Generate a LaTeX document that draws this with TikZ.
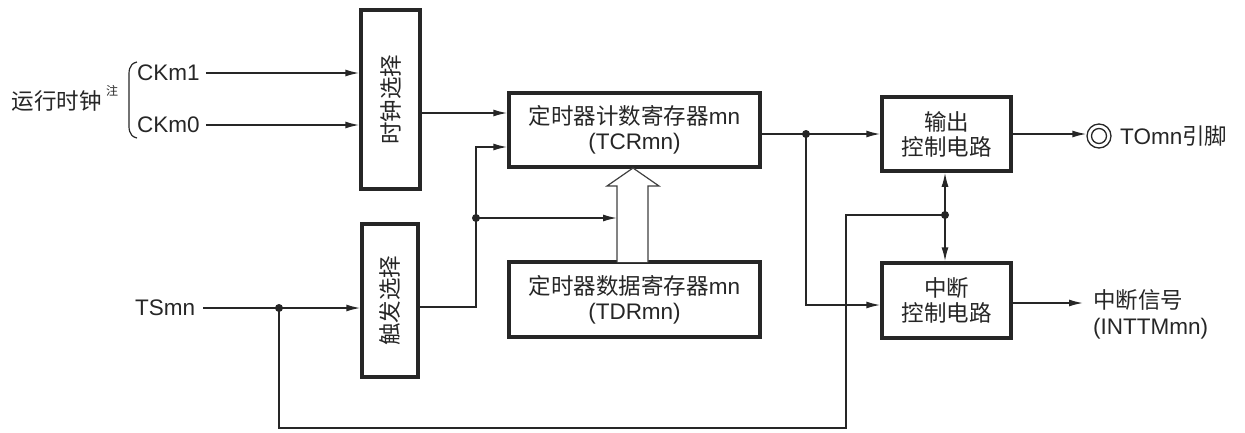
\documentclass[tikz,border=0pt]{standalone}
\usepackage{fontspec}
\setmainfont{Liberation Sans}
\newfontfamily\cjk{Noto Sans CJK SC}
\usetikzlibrary{arrows.meta,calc}
\begin{document}
\begin{tikzpicture}[x=1pt,y=-1pt,
  every node/.style={font=\fontsize{22.5}{27}\selectfont, text=black!85},
  blk/.style={draw=black!85, line width=3.5pt, fill=white, inner sep=0pt},
  ln/.style={draw=black!85, line width=1.5pt},
  arr/.style={ln, -{Latex[length=14pt,width=7pt]}},
  dot/.style={circle, fill=black!85, inner sep=0pt, minimum size=8pt}]
\useasboundingbox (0,0) rectangle (1245,432);
% blocks
\node[blk, minimum width=59pt, minimum height=179pt] (clk) at (390.5,99.5) {};
\node[rotate=90] at (clk.center) {\cjk 时钟选择};
\node[blk, minimum width=56pt, minimum height=153pt] (trg) at (390,300.5) {};
\node[rotate=90] at (trg.center) {\cjk 触发选择};
\node[blk, minimum width=251pt, minimum height=74pt, align=center] (tcr) at (634.5,130) {{\cjk 定时器计数寄存器}mn\\[-2pt](TCRmn)};
\node[blk, minimum width=251pt, minimum height=75pt, align=center] (tdr) at (634.5,299.5) {{\cjk 定时器数据寄存器}mn\\[-2pt](TDRmn)};
\node[blk, minimum width=129pt, minimum height=74pt, align=center] (out) at (946.5,134) {\cjk 输出\\[-2pt]\cjk 控制电路};
\node[blk, minimum width=129pt, minimum height=75pt, align=center] (irq) at (946.5,300.5) {\cjk 中断\\[-2pt]\cjk 控制电路};
% left labels
\node[anchor=west, inner sep=0pt] (ck1) at (137,73) {CKm1};
\node[anchor=west, inner sep=0pt] (ck0) at (137,125) {CKm0};
\node[anchor=east, inner sep=0pt] (run) at (102,101) {\cjk 运行时钟};
\node[anchor=west, inner sep=0pt, font=\fontsize{12}{14}\selectfont] (note) at (106,91) {\cjk 注};
\node[anchor=west, inner sep=0pt] (ts) at (135,308) {TSmn};
\draw[line width=1.2pt, black!85] (137,62) .. controls (128,64) and (129,72) .. (129,80) -- (129,120) .. controls (129,128) and (128,136) .. (137,138);
% clock inputs
\draw[arr] (ck1.east) ++(6,0) coordinate (c1s) -- (c1s -| clk.west);
\draw[arr] (ck0.east) ++(6,0) coordinate (c0s) -- (c0s -| clk.west);
% clock select to TCR
\coordinate (t1) at (420,113);
\draw[arr] (t1) -- (t1 -| tcr.west);
% trigger path
\coordinate (tj) at (476,218);
\coordinate (tt) at (476,147);
\draw[ln] (trg.east |- 0,307) -- (476,307) -- (tj);
\draw[arr] (tj) -- (tt) -- (tt -| tcr.west);
% hollow arrow
\draw[line width=1.2pt, black!75, fill=white] (617,262) -- (617,186) -- (607,186) -- (633,168) -- (659,186) -- (648,186) -- (648,262);
\draw[arr] (tj) -- (617,218);
\node[dot] at (tj) {};
% TSmn
\coordinate (tsj) at (279,308);
\draw[arr] (ts.east) ++(8,0) -- (trg.west |- 0,308);
\draw[ln] (tsj) -- (279,428) -- (846,428) -- (846,215) -- (945,215);
\node[dot] at (tsj) {};
\coordinate (oj) at (945,215);
\draw[arr] (oj) -- (oj |- out.south);
\draw[arr] (oj) -- (oj |- irq.north);
\node[dot] at (oj) {};
% TCR out
\coordinate (cj) at (806,134);
\draw[arr] (tcr.east |- cj) -- (cj) -- (cj -| out.west);
\draw[arr] (cj) -- (806,305) -- (irq.west |- 0,305);
\node[dot] at (cj) {};
% outputs
\node[circle, draw=black!85, line width=1.3pt, minimum size=24pt, inner sep=0pt] (pin) at (1099,136) {};
\node[circle, draw=black!85, line width=1.3pt, minimum size=15pt, inner sep=0pt] at (pin.center) {};
\draw[arr] (out.east |- 0,134) -- (pin.west |- 0,134);
\node[anchor=west, inner sep=0pt] (pint) at (1120,136) {TOmn{\cjk 引脚}};
\node[anchor=north west, inner sep=0pt, align=left] (irqt) at (1093,289) {\cjk 中断信号\\[-1pt](INTTMmn)};
\draw[arr] (irq.east |- 0,303) -- (1083,303);
\end{tikzpicture}
\end{document}
